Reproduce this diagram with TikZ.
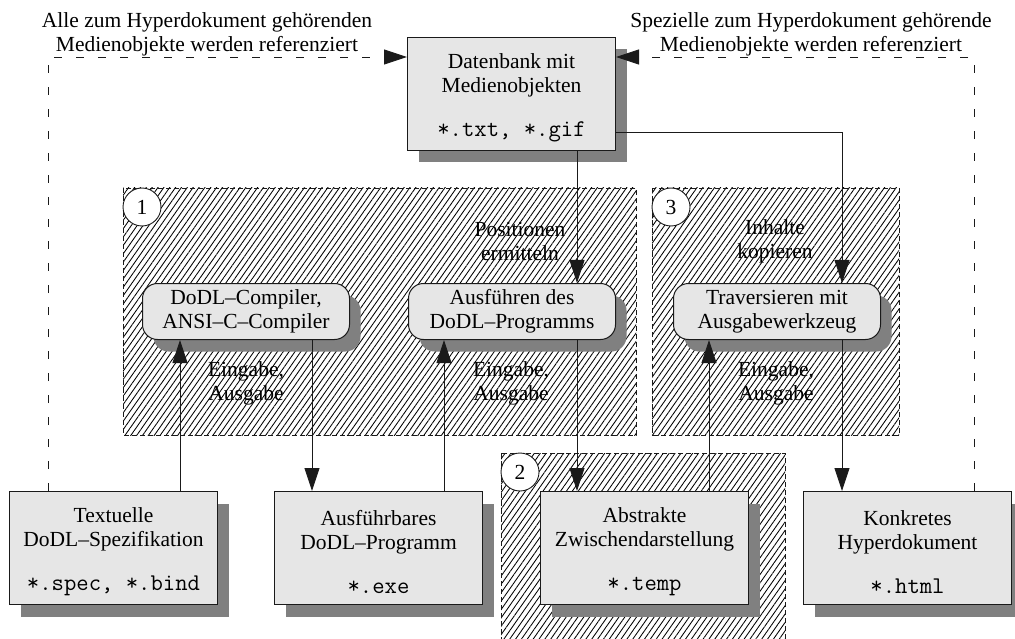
\documentclass[tikz,border=0pt]{standalone}
\usepackage{fontspec}
\setmainfont{Liberation Serif}
\usetikzlibrary{arrows.meta,patterns.meta,shadows,calc}

\definecolor{boxgray}{HTML}{E6E6E6}
\definecolor{shadowgray}{HTML}{808080}
\definecolor{linegray}{HTML}{1A1A1A}

% extra height on the first line of a file box
\newcommand\firstline{\rule{0pt}{23pt}}
\newcommand\fileext[1]{{\fontsize{24}{24}\selectfont\ttfamily #1}}

\begin{document}
\begin{tikzpicture}[x=1pt,y=-1pt,
  font=\fontsize{21.5}{24}\selectfont,
  shadowed/.style={drop shadow={shadow xshift=11pt,shadow yshift=-12pt,opacity=1,fill=shadowgray}},
  filebox/.style={shadowed,draw=linegray,line width=1pt,fill=boxgray,
    minimum width=208pt,minimum height=113pt,inner sep=0pt,align=center,anchor=north west},
  procbox/.style={shadowed,draw=linegray,line width=1pt,fill=boxgray,rounded corners=15pt,
    minimum width=207pt,minimum height=56pt,inner sep=0pt,align=center,anchor=north west},
  phase/.style={pattern={Lines[angle=55,distance=4.8pt,line width=0.85pt]},pattern color=black,
    draw=linegray,line width=0.8pt,dash pattern=on 5pt off 3pt},
  phasenum/.style={circle,draw=linegray,line width=0.9pt,fill=white,minimum size=38pt,inner sep=0pt},
  conn/.style={draw=linegray,line width=0.9pt,-{Triangle[length=23pt,width=15pt]}},
  refline/.style={conn,dash pattern=on 8pt off 14pt},
  note/.style={align=center,inner sep=0pt}
]
\useasboundingbox (0,0) rectangle (1015,639);
\clip (0,0) rectangle (1015,639);

% phases
\path[phase] (123,188) rectangle (636,435);
\path[phase] (652,188) rectangle (899,435);
\path[phase] (501,453) rectangle (785,660);

% x positions of the vertical connectors
\coordinate (cx1) at (180,0);
\coordinate (cx2) at (312,0);
\coordinate (cx3) at (444,0);
\coordinate (cx4) at (577,0);
\coordinate (cx5) at (709,0);
\coordinate (cx6) at (842,0);
\coordinate (dl) at (48,0);
\coordinate (dr) at (974,0);
\coordinate (ytop) at (0,57);
\coordinate (yrow) at (0,132);

% files and media database
\node[filebox] (db) at (407,37) {\firstline Datenbank mit\\Medienobjekten\\[20pt]\fileext{*.txt, *.gif}};
\node[filebox] (spec) at (9,491) {\firstline Textuelle\\DoDL--Spezifikation\\[20pt]\fileext{*.spec, *.bind}};
\node[filebox] (exe) at (274,491) {\firstline Ausführbares\\DoDL--Programm\\[20pt]\fileext{*.exe}};
\node[filebox] (tmp) at (540,491) {\firstline Abstrakte\\Zwischendarstellung\\[20pt]\fileext{*.temp}};
\node[filebox] (html) at (803,491) {\firstline Konkretes\\Hyperdokument\\[20pt]\fileext{*.html}};

% processing steps
\node[procbox] (comp) at (142,283) {DoDL--Compiler,\\ANSI--C--Compiler};
\node[procbox] (run) at (408,283) {Ausführen des\\DoDL--Programms};
\node[procbox] (trav) at (673,283) {Traversieren mit\\Ausgabewerkzeug};

% phase numbers
\node[phasenum] (p1) at (142,207) {1};
\node[phasenum] (p2) at (520,472) {2};
\node[phasenum] (p3) at (671,207) {3};

% notes
\node[note] (ref1) at (207,34) {Alle zum Hyperdokument gehörenden\\Medienobjekte werden referenziert};
\node[note] (ref2) at (811,34) {Spezielle zum Hyperdokument gehörende\\Medienobjekte werden referenziert};
\node[note] (pos) at (520,241) {Positionen\\ermitteln};
\node[note] (copy) at (775,241) {Inhalte\\kopieren};
\node[note] (io1) at (246,383) {Eingabe,\\Ausgabe};
\node[note] (io2) at (511,383) {Eingabe,\\Ausgabe};
\node[note] (io3) at (776,383) {Eingabe,\\Ausgabe};

% data flow
\draw[conn] (spec.north -| cx1) -- (comp.south -| cx1);
\draw[conn] (comp.south -| cx2) -- (exe.north -| cx2);
\draw[conn] (exe.north -| cx3) -- (run.south -| cx3);
\draw[conn] (db.south -| cx4) -- (run.north -| cx4);
\draw[conn] (run.south -| cx4) -- (tmp.north -| cx4);
\draw[conn] (tmp.north -| cx5) -- (trav.south -| cx5);
\draw[conn] (trav.south -| cx6) -- (html.north -| cx6);
\draw[conn] (db.east |- yrow) -| (trav.north -| cx6);

% references to the media objects
\draw[refline] (spec.north -| dl) |- (db.west |- ytop);
\draw[refline] (html.north -| dr) |- (db.east |- ytop);
\end{tikzpicture}
\end{document}
